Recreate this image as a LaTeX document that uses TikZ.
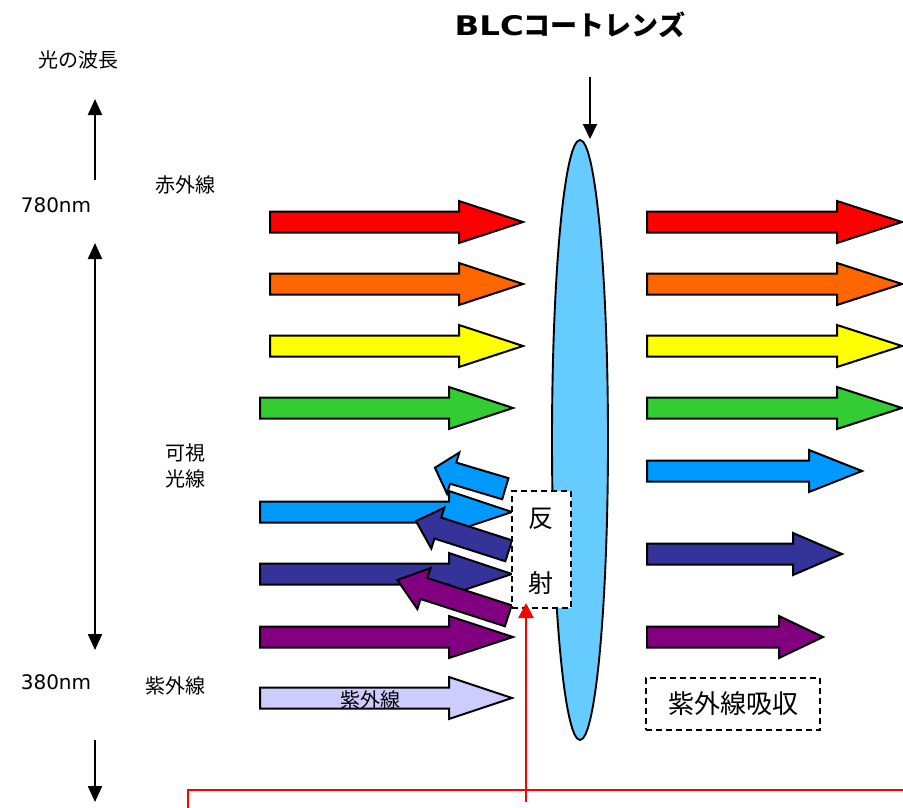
\documentclass[tikz,border=0pt]{standalone}
\usepackage{fontspec}
\usepackage{graphicx}
\setmainfont{Noto Sans CJK JP}
\newfontfamily\latinfont{DejaVu Sans}
\usetikzlibrary{arrows.meta,shapes.geometric}
\definecolor{cRed}{HTML}{FF0000}
\definecolor{cOrange}{HTML}{FF6600}
\definecolor{cYellow}{HTML}{FFFF00}
\definecolor{cGreen}{HTML}{33CC33}
\definecolor{cLBlue}{HTML}{0099FF}
\definecolor{cNavy}{HTML}{333399}
\definecolor{cPurple}{HTML}{800080}
\definecolor{cUV}{HTML}{CCCCFF}
\definecolor{cLens}{HTML}{66CCFF}
\newcommand\blockarrow[5]{%
  \draw[barrow,fill=#5] (#1,#4-10.5) -- (#2,#4-10.5) -- (#2,#4-21) -- (#3,#4) -- (#2,#4+21) -- (#2,#4+10.5) -- (#1,#4+10.5) -- cycle;}
\newcommand\reflarrow[6]{%
  \begin{scope}[shift={(#1,#2)},rotate=-#6]
   \draw[barrow,fill=#5] (0,-11) -- (-#3+#4,-11) -- (-#3+#4,-21.5) -- (-#3,0) -- (-#3+#4,21.5) -- (-#3+#4,11) -- (0,11) -- cycle;
  \end{scope}}
\begin{document}
\begin{tikzpicture}[x=1pt,y=-1pt,
  barrow/.style={draw=black,line width=2pt,line join=miter},
  varrow/.style={line width=2.3pt,-{Triangle[length=16pt,width=14pt]}},
  vdarrow/.style={line width=2.3pt,{Triangle[length=16pt,width=14pt]}-{Triangle[length=16pt,width=14pt]}},
  redline/.style={draw=cRed,line width=2.3pt},
  txtlabel/.style={font=\fontsize{20}{23}\selectfont,inner sep=0pt},
  nmlabel/.style={font=\latinfont\fontsize{20}{23}\selectfont,inner sep=0pt},
  dashbox/.style={draw=black,line width=1.8pt,dash pattern=on 6pt off 4pt,fill=white}]
\useasboundingbox (0,0) rectangle (903,808);
% lens
\node[ellipse,draw=black,line width=1.9pt,fill=cLens,minimum width=56pt,minimum height=600pt,inner sep=0pt] (lens) at (580,440) {};
% title and lens arrow
\node[font=\fontsize{27}{30}\selectfont\bfseries,inner sep=0pt] (title) at (570,25) {\scalebox{1.2}[1]{\latinfont\bfseries BLC}コートレンズ};
\coordinate (la0) at (590,77);
\coordinate (la1) at (590,139);
\draw[line width=2pt,-{Triangle[length=15pt,width=14pt]}] (la0) -- (la1);
% left scale
\node[txtlabel] (wl) at (78,60) {光の波長};
\node[nmlabel] (n780) at (56,205) {780nm};
\node[nmlabel] (n380) at (56,682) {380nm};
\node[txtlabel] (ir) at (185,185) {赤外線};
\node[txtlabel] (vis1) at (185,453) {可視};
\node[txtlabel] (vis2) at (185,479) {光線};
\node[txtlabel] (uvl) at (175,686) {紫外線};
\coordinate (a1s) at (95,180);
\coordinate (a1e) at (95,99);
\coordinate (a2s) at (95,243);
\coordinate (a2e) at (95,650);
\coordinate (a3s) at (95,740);
\coordinate (a3e) at (95,802);
\draw[varrow] (a1s) -- (a1e);
\draw[vdarrow] (a2s) -- (a2e);
\draw[varrow] (a3s) -- (a3e);
% incoming arrows
\blockarrow{270}{459}{523}{222}{cRed}
\blockarrow{270}{459}{523}{284}{cOrange}
\blockarrow{270}{459}{523}{346}{cYellow}
\blockarrow{260}{449}{513}{408}{cGreen}
\blockarrow{260}{449}{512}{512}{cLBlue}
\blockarrow{260}{449}{512}{574}{cNavy}
\blockarrow{260}{449}{513}{637}{cPurple}
\blockarrow{260}{449}{512}{698}{cUV}
\node[txtlabel] (uvin) at (370,700) {紫外線};
% reflected arrows
\reflarrow{505.3}{488.7}{73.4}{19}{cLBlue}{16.6}
\reflarrow{508.7}{550.8}{97.4}{23}{cNavy}{17.8}
\reflarrow{508.3}{615.8}{116.6}{28}{cPurple}{17.9}
% outgoing arrows
\blockarrow{647}{837}{902}{222}{cRed}
\blockarrow{647}{837}{902}{284}{cOrange}
\blockarrow{647}{837}{902}{346}{cYellow}
\blockarrow{647}{837}{902}{408}{cGreen}
\blockarrow{647}{809}{862}{471}{cLBlue}
\blockarrow{647}{793}{842}{554}{cNavy}
\blockarrow{647}{779}{823}{637}{cPurple}
% reflection box
\node[dashbox,minimum width=59pt,minimum height=117pt,inner sep=0pt] (refl) at (541.5,549.5) {};
\node[font=\fontsize{25}{27}\selectfont,inner sep=0pt] (han) at (541,519) {反};
\node[font=\fontsize{25}{27}\selectfont,inner sep=0pt] (sha) at (541,583) {射};
% UV absorption box
\node[dashbox,minimum width=174pt,minimum height=52pt,inner sep=0pt,font=\fontsize{26}{28}\selectfont] (uvabs) at (733,704) {紫外線吸収};
% red lines
\coordinate (r0) at (526,802);
\coordinate (r1) at (526,603);
\draw[redline,-{Triangle[length=15pt,width=15pt]}] (r0) -- (r1);
\coordinate (h0) at (188,808);
\coordinate (h1) at (188,790);
\coordinate (h2) at (905,790);
\draw[redline] (h0) -- (h1) -- (h2);
\end{tikzpicture}
\end{document}
